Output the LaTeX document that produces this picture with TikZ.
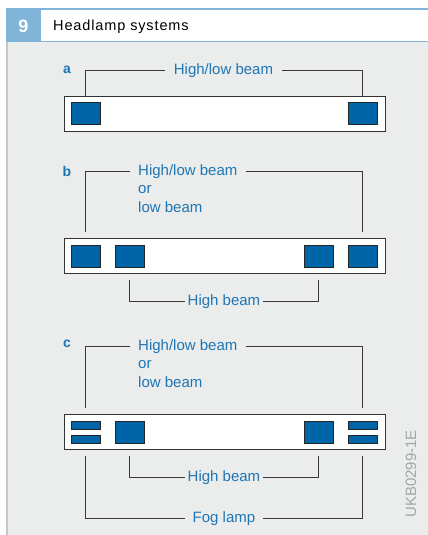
\documentclass[tikz,border=0pt]{standalone}
\usepackage{fontspec}
\setmainfont{Liberation Sans}
\usetikzlibrary{positioning,calc}
\definecolor{labelblue}{HTML}{1F76B3}
\definecolor{lampblue}{HTML}{0065A6}
\definecolor{headblue}{HTML}{80B4D9}
\definecolor{panelgrey}{HTML}{EBECEC}
\definecolor{rimgrey}{HTML}{C6C7C8}
\definecolor{codegrey}{HTML}{A4A5A6}
\tikzset{
  bar/.style={draw=black!80,fill=white,line width=1pt,minimum width=321pt,minimum height=35pt,inner sep=0pt},
  lamp/.style={draw=black!85,fill=lampblue,line width=1pt,minimum width=29pt,minimum height=22pt,inner sep=0pt},
  foglamp/.style={lamp,minimum height=8pt},
  lbl/.style={text=labelblue,font=\fontsize{15}{18}\selectfont,inner ysep=0pt,text height=11pt,text depth=3pt},
  part/.style={text=labelblue,font=\bfseries\fontsize{14}{16}\selectfont,inner sep=0pt,text height=10pt,text depth=0pt},
  lead/.style={draw=black!78,line width=0.9pt},
  headline/.style={draw=headblue,line width=1.6pt}
}
\begin{document}
\begin{tikzpicture}[x=1pt,y=-1pt]
    \useasboundingbox (0,0) rectangle (428,535);
    \fill[panelgrey](6,42)rectangle(428,535);
    \fill[rimgrey](6,42)rectangle(8.3,535);
    \fill[white](41,9)rectangle(428,41);
    \draw[headline](41,9)--(428,9);
    \draw[headline](41,41.5)--(428,41.5);
    \fill[headblue](6,8)rectangle(41,42.3);
    \node[text=white,font=\bfseries\fontsize{18}{20}\selectfont] (num) at (23.5,26.5){9};
    \node[anchor=west,inner sep=0pt,font=\fontsize{14.5}{17}\selectfont\addfontfeatures{LetterSpace=6}] (title) at (53,26.5){Headlamp systems};

    \node[part] (pa) at (67,69){a};
    \node[bar] (bara) at (224.5,113.5){};
    \node[lamp] (a1) at (85.5,113){};
    \node[lamp] (a2) at (362.5,113){};
    \node[lbl,inner xsep=9pt] (ta) at (223.5,70.5){High/low beam};
    \draw[lead](ta.west)-|(a1 |- bara.north);
    \draw[lead](ta.east)-|(a2 |- bara.north);

    \node[part] (pb) at (67,171.5){b};
    \node[bar] (barb) at (224.5,256){};
    \node[lamp] (b1) at (85.5,256){};
    \node[lamp] (b2) at (129.5,256){};
    \node[lamp] (b3) at (318.5,256){};
    \node[lamp] (b4) at (362.5,256){};
    \node[lbl,anchor=west,inner xsep=8pt] (tb) at (130,171){High/low beam};
    \node[lbl,anchor=west,inner xsep=0pt] (tbor) at (138,189){or};
    \node[lbl,anchor=west,inner xsep=0pt] (tblow) at (138,208){low beam};
    \draw[lead](tb.west)-|($(b1 |- barb.north)+(0,-6)$);
    \draw[lead](tb.east)-|($(b4 |- barb.north)+(0,-6)$);
    \node[lbl,inner xsep=3pt] (hb) at (224,301){High beam};
    \draw[lead](hb.west)-|($(b2 |- barb.south)+(0,6)$);
    \draw[lead](hb.east)-|($(b3 |- barb.south)+(0,6)$);

    \node[part] (pc) at (67,342.5){c};
    \node[bar] (barc) at (224.5,432){};
    \node[foglamp] (c1u) at (85.5,425){};
    \node[foglamp] (c1l) at (85.5,439){};
    \node[lamp] (c2) at (129.5,432){};
    \node[lamp] (c3) at (318.5,432){};
    \node[foglamp] (c4u) at (362.5,425){};
    \node[foglamp] (c4l) at (362.5,439){};
    \node[lbl,anchor=west,inner xsep=8pt] (tc) at (130,346){High/low beam};
    \node[lbl,anchor=west,inner xsep=0pt] (tcor) at (138,364.5){or};
    \node[lbl,anchor=west,inner xsep=0pt] (tclow) at (138,383){low beam};
    \draw[lead](tc.west)-|($(c1u |- barc.north)+(0,-6)$);
    \draw[lead](tc.east)-|($(c4u |- barc.north)+(0,-6)$);
    \node[lbl,inner xsep=3pt] (hc) at (224,477){High beam};
    \draw[lead](hc.west)-|($(c2 |- barc.south)+(0,6)$);
    \draw[lead](hc.east)-|($(c3 |- barc.south)+(0,6)$);
    \node[lbl,inner xsep=8pt] (fc) at (224,518){Fog lamp};
    \draw[lead](fc.west)-|($(c1l |- barc.south)+(0,6)$);
    \draw[lead](fc.east)-|($(c4l |- barc.south)+(0,6)$);

    \node[rotate=90,text=codegrey,font=\fontsize{15}{18}\selectfont] (code) at (411,474){UKB0299-1E};
\end{tikzpicture}
\end{document}
